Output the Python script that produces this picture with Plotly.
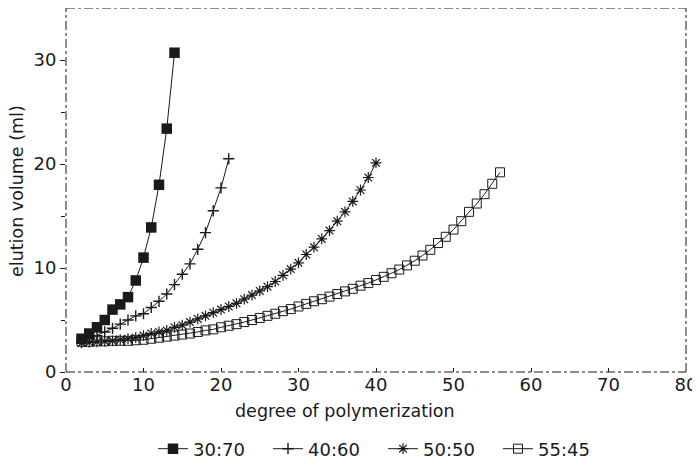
import plotly.graph_objects as go

# ---- data ----
x_3070 = [2, 3, 4, 5, 6, 7, 8, 9, 10, 11, 12, 13, 14]
y_3070 = [3.2, 3.7, 4.3, 5.0, 6.0, 6.5, 7.2, 8.8, 11.0, 13.9, 18.0, 23.4, 30.7]

x_4060 = list(range(2, 22))
y_4060 = [2.9, 3.2, 3.5, 3.85, 4.2, 4.6, 5.0, 5.4, 5.6, 6.2, 6.8, 7.5, 8.4, 9.4, 10.4,
          11.8, 13.4, 15.5, 17.7, 20.5]

x_5050 = list(range(2, 41))
y_5050 = [2.8, 2.85, 2.9, 2.95, 3.0, 3.1, 3.2, 3.3, 3.5, 3.7, 3.85, 4.0, 4.3, 4.5, 4.8,
          5.1, 5.4, 5.7, 6.0, 6.3, 6.6, 7.0, 7.4, 7.8, 8.2, 8.7, 9.3, 9.9, 10.5, 11.3,
          12.0, 12.8, 13.6, 14.5, 15.4, 16.4, 17.5, 18.7, 20.1]

x_5545 = list(range(2, 57))
y_5545 = [2.9, 2.9, 2.95, 2.95, 3.0, 3.0, 3.0, 3.05, 3.1, 3.2, 3.3, 3.4, 3.5, 3.6, 3.7,
          3.85, 4.0, 4.1, 4.3, 4.45, 4.6, 4.8, 5.0, 5.2, 5.4, 5.6, 5.85, 6.05, 6.3, 6.55,
          6.8, 7.0, 7.25, 7.5, 7.75, 8.0, 8.3, 8.55, 8.85, 9.15, 9.5, 9.85, 10.25, 10.7,
          11.2, 11.75, 12.4, 13.0, 13.7, 14.5, 15.4, 16.2, 17.1, 18.1, 19.2]

names = ["30:70", "40:60", "50:50", "55:45"]
x_ticks = [0, 10, 20, 30, 40, 50, 60, 70, 80]
y_ticks = [0, 10, 20, 30]

FONT = "DejaVu Sans"
INK = "#1a1a1a"

# page body has an 8px margin, so the figure is drawn 8px smaller and shifted
W, H = 692, 462
L, R, T, B = 58, 14, 0, 98
PW, PH = W - L - R, H - T - B

fig = go.Figure()
fig.add_trace(go.Scatter(x=x_3070, y=y_3070, name=names[0], mode="lines+markers",
                         line=dict(color=INK, width=1),
                         marker=dict(symbol="square", size=10.5, color=INK)))
fig.add_trace(go.Scatter(x=x_4060, y=y_4060, name=names[1], mode="lines+markers",
                         line=dict(color=INK, width=1),
                         marker=dict(symbol="cross-thin", size=8, color=INK,
                                     line=dict(color=INK, width=1.4))))
fig.add_trace(go.Scatter(x=x_5050, y=y_5050, name=names[2], mode="lines+markers",
                         line=dict(color=INK, width=1),
                         marker=dict(symbol="asterisk", size=9, color=INK,
                                     line=dict(color=INK, width=1.2))))
fig.add_trace(go.Scatter(x=x_5545, y=y_5545, name=names[3], mode="lines+markers",
                         line=dict(color=INK, width=1),
                         marker=dict(symbol="square-open", size=9, color=INK,
                                     line=dict(color=INK, width=1))))

# dash-dot frame
for (x0, y0, x1, y1) in [(0, 0, 1, 0), (0, 1, 1, 1), (0, 0, 0, 1), (1, 0, 1, 1)]:
    fig.add_shape(type="line", xref="paper", yref="paper", x0=x0, y0=y0, x1=x1, y1=y1,
                  line=dict(color=INK, width=1, dash="dashdot"))

fig.update_layout(
    width=W, height=H,
    margin=dict(l=L, r=R, t=T, b=B, autoexpand=False),
    paper_bgcolor="white", plot_bgcolor="white",
    font=dict(family=FONT, color=INK, size=16),
    showlegend=True,
    legend=dict(orientation="h", x=(375 - L) / PW, xanchor="center",
                y=(PH - 441) / PH, yanchor="middle",
                font=dict(size=18, family=FONT, color=INK), itemwidth=30,
                entrywidth=70, entrywidthmode="pixels",
                bgcolor="rgba(0,0,0,0)"),
    xaxis=dict(range=[0, 80], tickvals=x_ticks, ticktext=[str(v) for v in x_ticks],
               showgrid=False, zeroline=False, showline=False, automargin=False,
               ticks="inside", ticklen=4, tickcolor=INK,
               tickfont=dict(size=18, family=FONT, color=INK)),
    yaxis=dict(range=[0, 35], tickvals=y_ticks, ticktext=[str(v) for v in y_ticks],
               showgrid=False, zeroline=False, showline=False, automargin=False,
               ticks="outside", ticklen=5, tickcolor=INK,
               minor=dict(tickvals=[5, 15, 25], ticks="outside", ticklen=4, tickcolor=INK),
               tickfont=dict(size=18, family=FONT, color=INK)),
    annotations=[
        dict(text="degree of polymerization", xref="paper", yref="paper",
             x=(337 - L) / PW, y=(PH - 403) / PH, xanchor="center", yanchor="middle",
             showarrow=False, font=dict(size=17.5, family=FONT, color=INK)),
        dict(text="elution volume (ml)", xref="paper", yref="paper",
             x=(9 - L) / PW, y=(PH - 183) / PH, xanchor="center", yanchor="middle",
             textangle=-90, showarrow=False, font=dict(size=17.5, family=FONT, color=INK)),
    ],
)

fig.write_html("out.html")
